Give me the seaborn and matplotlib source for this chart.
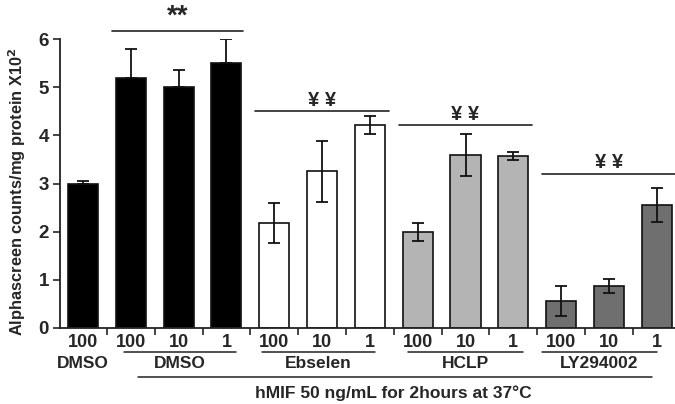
import numpy as np
import pandas as pd
import seaborn as sns
import matplotlib.pyplot as plt

# values
doses = ['100', '100', '10', '1', '100', '10', '1', '100', '10', '1', '100', '10', '1']
groups = ['DMSO0', 'DMSO', 'DMSO', 'DMSO', 'Ebselen', 'Ebselen', 'Ebselen',
          'HCLP', 'HCLP', 'HCLP', 'LY294002', 'LY294002', 'LY294002']
means = [2.98, 5.2, 5.01, 5.5, 2.18, 3.25, 4.21, 1.99, 3.59, 3.57, 0.56, 0.87, 2.55]
errs = [0.08, 0.6, 0.35, 0.5, 0.42, 0.64, 0.19, 0.19, 0.44, 0.08, 0.31, 0.15, 0.35]
group_colors = {'DMSO0': '#000000', 'DMSO': '#000000', 'Ebselen': '#ffffff',
                'HCLP': '#b4b4b4', 'LY294002': '#6f6f6f'}

sns.set_style('ticks')
plt.rcParams['font.family'] = ['Liberation Sans', 'DejaVu Sans']
plt.rcParams['font.weight'] = 'bold'

df = pd.DataFrame({'pos': range(len(means)), 'mean': means, 'group': groups})

fig = plt.figure(figsize=(6.75, 4.04), dpi=100)
ax = fig.add_axes([60/675, 1-328/404, 1-60/675, (328-39)/404])

sns.barplot(data=df, x='pos', y='mean', hue='group', palette=group_colors,
            dodge=False, width=0.63, edgecolor='#111111', linewidth=1.2,
            legend=False, ax=ax, native_scale=True)
# lower half of the bars hidden inside the black bars
lower = [0 if group_colors[g] == '#000000' else e for g, e in zip(groups, errs)]
ax.errorbar(df['pos'], df['mean'], yerr=[lower, errs], fmt='none', ecolor='#111111',
            elinewidth=1.3, capsize=4, capthick=1.3)

ax.set_xlim(-0.48, 12.38)
ax.set_ylim(0, 6)
ax.set_yticks(range(7))
ax.set_yticklabels([str(i) for i in range(7)], fontsize=13.5, fontweight='bold')
ax.set_xticks(range(len(doses)))
ax.set_xticklabels(doses, fontsize=13, fontweight='bold')
ax.set_xticks(np.arange(0.5, 12, 1), minor=True)
ax.tick_params(axis='x', which='major', length=0, pad=4)
ax.tick_params(axis='x', which='minor', length=5, width=1.2, direction='out')
ax.tick_params(axis='y', length=5, width=1.2, pad=3)
ax.set_xlabel('')
ax.set_ylabel('Alphascreen counts/mg protein X10$^{2}$', fontsize=11.8,
              fontweight='bold')
ax.yaxis.set_label_coords(-0.052, 0.47)
for s in ['top', 'right']:
    ax.spines[s].set_visible(False)
for s in ['left', 'bottom']:
    ax.spines[s].set_linewidth(1.3)
    ax.spines[s].set_color('#222222')

# significance brackets above bars
brackets = [(0.6, 3.35, 6.17, '**'), (3.6, 6.4, 4.5, '¥ ¥'),
            (6.6, 9.4, 4.21, '¥ ¥'), (9.6, 12.4, 3.2, '¥ ¥')]
for x0, x1, yb, lab in brackets:
    ax.plot([x0, x1], [yb, yb], color='#222222', lw=1.2, clip_on=False)
    ax.text((x0 + x1) / 2, yb + 0.03, lab, ha='center', va='bottom',
            fontsize=20 if lab == '**' else 14.5, fontweight='bold', clip_on=False)

# group labels under the axis
trans = ax.get_xaxis_transform()
def py(p):
    return 1 - (p - 39) / (328 - 39)
ax.text(0, py(363), 'DMSO', transform=trans, ha='center', va='center',
        fontsize=12.5, fontweight='bold', clip_on=False)
for x0, x1, lab in [(0.85, 3.2, 'DMSO'), (3.75, 6.1, 'Ebselen'),
                    (6.8, 9.2, 'HCLP'), (9.6, 12.0, 'LY294002')]:
    ax.plot([x0, x1], [py(352), py(352)], transform=trans, color='#222222',
            lw=1.1, clip_on=False)
    ax.text((x0 + x1) / 2, py(364), lab, transform=trans, ha='center',
            va='center', fontsize=12.5, fontweight='bold', clip_on=False)
ax.plot([1.15, 11.9], [py(377), py(377)], transform=trans, color='#222222',
        lw=1.1, clip_on=False)
ax.text(6.5, py(393), 'hMIF 50 ng/mL for 2hours at 37°C', transform=trans,
        ha='center', va='center', fontsize=12.5, fontweight='bold', clip_on=False)

fig.savefig('out.png', dpi=100)
